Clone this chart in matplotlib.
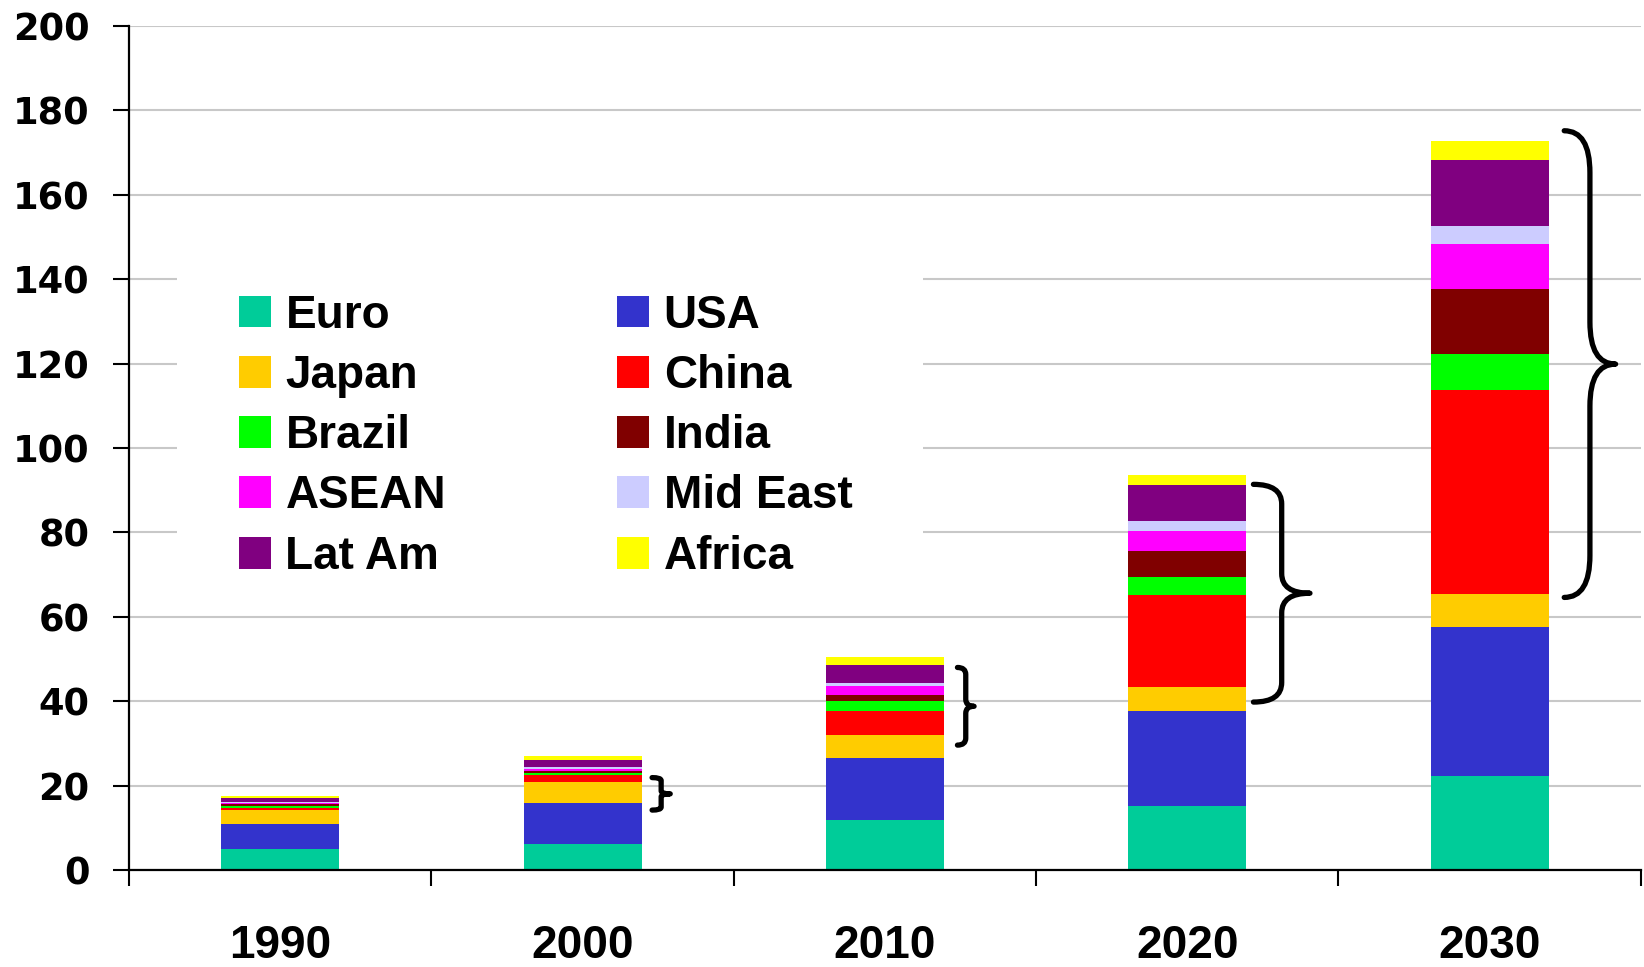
import matplotlib
matplotlib.use('Agg')
import matplotlib.pyplot as plt
import numpy as np
from matplotlib.path import Path
from matplotlib.patches import PathPatch, Rectangle, Patch

years = ['1990', '2000', '2010', '2020', '2030']

euro    = [5.05, 6.2, 11.9, 15.2, 22.2]
usa     = [5.9, 9.7, 14.7, 22.6, 35.5]
japan   = [3.3, 5.0, 5.4, 5.6, 7.6]
china   = [0.47, 1.6, 5.7, 21.8, 48.4]
brazil  = [0.47, 0.5, 2.4, 4.3, 8.5]
india   = [0.47, 0.5, 1.4, 6.2, 15.6]
asean   = [0.15, 0.5, 2.1, 4.7, 10.5]
mideast = [0.3, 0.3, 0.7, 2.4, 4.3]
latam   = [0.95, 1.7, 4.3, 8.5, 15.6]
africa  = [0.47, 1.1, 1.9, 2.4, 4.6]

# (bottom, top, width, gap from bar) of the brace next to each bar
brace_spans = [None, (14.2, 21.9, 0.06, 0.035), (29.6, 48.0, 0.055, 0.045),
               (39.8, 91.4, 0.187, 0.024), (64.6, 175.2, 0.17, 0.052)]

series = [
    ('Euro', euro, '#00CC99'),
    ('USA', usa, '#3333CC'),
    ('Japan', japan, '#FFCC00'),
    ('China', china, '#FF0000'),
    ('Brazil', brazil, '#00FF00'),
    ('India', india, '#800000'),
    ('ASEAN', asean, '#FF00FF'),
    ('Mid East', mideast, '#CCCCFF'),
    ('Lat Am', latam, '#800080'),
    ('Africa', africa, '#FFFF00'),
]

FONT = 'Liberation Sans'
FS = 33
bar_w = 0.39


def brace(ax, x0, y0, y1, w, lw=3.8):
    xm = x0 + 0.5 * w
    xr = x0 + w
    ym = (y0 + y1) / 2
    ry = 0.09 * (y1 - y0)
    verts = [(x0, y1), (xm, y1), (xm, y1 - ry),
             (xm, ym + ry), (xm, ym), (xr, ym),
             (xm, ym), (xm, ym - ry),
             (xm, y0 + ry), (xm, y0), (x0, y0)]
    codes = [Path.MOVETO, Path.CURVE3, Path.CURVE3,
             Path.LINETO, Path.CURVE3, Path.CURVE3,
             Path.CURVE3, Path.CURVE3,
             Path.LINETO, Path.CURVE3, Path.CURVE3]
    ax.add_patch(PathPatch(Path(verts, codes), facecolor='none',
                           edgecolor='black', lw=lw, capstyle='round',
                           joinstyle='round', zorder=4))


fig = plt.figure(figsize=(16.44, 9.67), dpi=100)
ax = fig.add_axes([0.0785, 0.1003, 0.9195, 0.8727])

x = np.arange(len(years))
bottom = np.zeros(len(years))
handles = {}
for name, vals, color in series:
    vals = np.array(vals)
    ax.bar(x, vals, bar_w, bottom=bottom, color=color, linewidth=0, zorder=2)
    bottom += vals
    handles[name] = Patch(facecolor=color, edgecolor='none')

for i, span in enumerate(brace_spans):
    if span is None:
        continue
    lo, hi, w, gap = span
    brace(ax, x[i] + bar_w / 2 + gap, lo, hi, w)

ax.set_xlim(-0.5, len(years) - 0.5)
ax.set_ylim(0, 200)
ax.set_yticks(np.arange(0, 201, 20))
ax.set_xticks(x)
ax.set_xticklabels(years)
ax.set_xticks(np.arange(-0.5, len(years), 1.0), minor=True)

ax.set_axisbelow(True)
ax.yaxis.grid(True, color='#c8c8c8', linewidth=1.5)
for s in ['top', 'right']:
    ax.spines[s].set_visible(False)
for s in ['left', 'bottom']:
    ax.spines[s].set_linewidth(1.6)

ax.tick_params(axis='y', direction='out', length=11.5, width=1.5, pad=17)
ax.tick_params(axis='x', which='major', length=0, pad=39)
ax.tick_params(axis='x', which='minor', direction='out', length=11.5, width=1.5)
for lab in ax.get_yticklabels():
    lab.set_fontfamily('DejaVu Sans')
    lab.set_fontweight('bold')
    lab.set_fontsize(26.5)
for lab in ax.get_xticklabels():
    lab.set_fontfamily(FONT)
    lab.set_fontweight('bold')
    lab.set_fontsize(FS)

# white block behind the legend hides the gridlines there
ax.add_patch(Rectangle((0.032, 0.33), 0.493, 0.43, transform=ax.transAxes,
                       facecolor='white', edgecolor='none', zorder=1))

order = ['Euro', 'Japan', 'Brazil', 'ASEAN', 'Lat Am',
         'USA', 'China', 'India', 'Mid East', 'Africa']
leg = ax.legend([handles[n] for n in order], order, ncol=2,
                loc='upper left', bbox_to_anchor=(0.0728, 0.683),
                frameon=False, borderpad=0, borderaxespad=0,
                handlelength=0.69, handleheight=0.69, handletextpad=0.32,
                labelspacing=0.355, columnspacing=3.74,
                prop={'family': FONT, 'weight': 'bold', 'size': FS})
leg.set_zorder(5)

fig.savefig('out.png', dpi=100)
